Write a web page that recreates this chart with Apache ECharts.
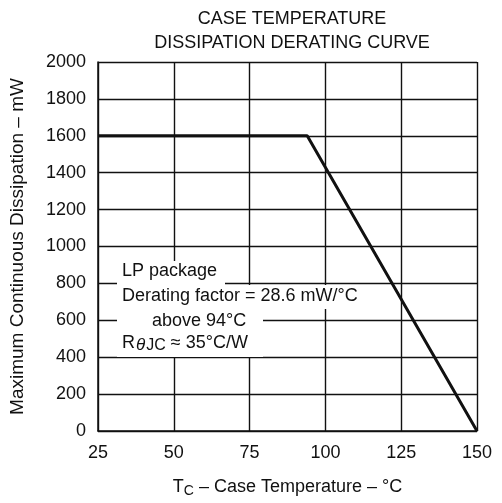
<!DOCTYPE html>
<html>
<head>
<meta charset="utf-8">
<script src="https://cdn.jsdelivr.net/npm/echarts@6/dist/echarts.min.js"></script>
<style>
html, body { margin: 0; padding: 0; background: #fff; }
#main { width: 502px; height: 503px; }
</style>
</head>
<body>
<div id="main"></div>
<script>
// derating curve: flat to 94 C, then 28.6 mW/C down to 150 C
var caseTemp = [25, 94, 150];
var dissipation = [1600, 1600, 0];
var titleLines = ['CASE TEMPERATURE', 'DISSIPATION DERATING CURVE'];
var noteLines = ['LP package', 'Derating factor = 28.6 mW/\u00b0C', 'above 94\u00b0C'];

var font = '"Liberation Sans", Arial, Helvetica, sans-serif';
var ink = '#111';

var myChart = echarts.init(document.getElementById('main'));

var points = caseTemp.map(function (t, i) {
    return [t, dissipation[i]];
});

option = {
    backgroundColor: '#fff',
    animation: false,
    title: {
        text: titleLines.join('\n'),
        left: 287,
        top: 2,
        textAlign: 'center',
        textStyle: {
            fontFamily: font,
            fontSize: 18,
            fontWeight: 'normal',
            color: ink,
            lineHeight: 24
        }
    },
    grid: {
        left: 98,
        right: 25,
        top: 62,
        bottom: 68
    },
    xAxis: {
        type: 'value',
        min: 25,
        max: 150,
        interval: 25,
        name: '{t|T}{sub|C}{n| \u2013 Case Temperature \u2013 \u00b0C}',
        nameLocation: 'middle',
        nameGap: 45,
        nameTextStyle: {
            rich: {
                t: { fontFamily: font, fontSize: 18, color: ink },
                sub: { fontFamily: font, fontSize: 14, color: ink, padding: [8, 0, 0, 0] },
                n: { fontFamily: font, fontSize: 18, color: ink }
            }
        },
        axisLine: { show: true, lineStyle: { color: ink, width: 1.5 } },
        axisTick: { show: false },
        axisLabel: { fontFamily: font, fontSize: 18, color: ink, margin: 13 },
        splitLine: { show: true, lineStyle: { color: ink, width: 1.4 } }
    },
    yAxis: {
        type: 'value',
        min: 0,
        max: 2000,
        interval: 200,
        name: 'Maximum Continuous Dissipation \u2013 mW',
        nameLocation: 'middle',
        nameGap: 71,
        nameTextStyle: { fontFamily: font, fontSize: 19, color: ink },
        axisLine: { show: true, lineStyle: { color: ink, width: 1.5 } },
        axisTick: { show: false },
        axisLabel: {
            fontFamily: font, fontSize: 18, color: ink, margin: 12,
            formatter: function (v) { return String(v); }
        },
        splitLine: { show: true, lineStyle: { color: ink, width: 1.4 } }
    },
    series: [
        {
            type: 'line',
            data: points,
            symbol: 'none',
            z: 10,
            lineStyle: { color: ink, width: 3 }
        }
    ],
    graphic: [
        // white patches behind the note, grid lines stop at them
        { type: 'rect', left: 117, top: 261, z: 50, shape: { width: 108, height: 24 }, style: { fill: '#fff' } },
        { type: 'rect', left: 117, top: 285, z: 50, shape: { width: 251, height: 24 }, style: { fill: '#fff' } },
        { type: 'rect', left: 117, top: 309, z: 50, shape: { width: 146, height: 48 }, style: { fill: '#fff' } },
        { type: 'text', left: 122, top: 262, z: 60, style: { text: noteLines[0], font: '18px ' + font, fill: ink } },
        { type: 'text', left: 122, top: 287, z: 60, style: { text: noteLines[1], font: '18px ' + font, fill: ink } },
        { type: 'text', left: 152, top: 312, z: 60, style: { text: noteLines[2], font: '18px ' + font, fill: ink } },
        {
            type: 'text', left: 122, top: 334, z: 60,
            style: {
                text: '{r|R}{th|\u03b8}{sub|JC}{n| \u2248 35\u00b0C/W}',
                rich: {
                    r: { fontFamily: font, fontSize: 18, fill: ink },
                    th: { fontFamily: font, fontSize: 17, fontStyle: 'italic', fill: ink, padding: [4, 0, 0, 1] },
                    sub: { fontFamily: font, fontSize: 16, fill: ink, padding: [6, 0, 0, 1] },
                    n: { fontFamily: font, fontSize: 18, fill: ink }
                }
            }
        }
    ]
};

if (option && typeof option === 'object') {
    myChart.setOption(option, true);
}
</script>
</body>
</html>
